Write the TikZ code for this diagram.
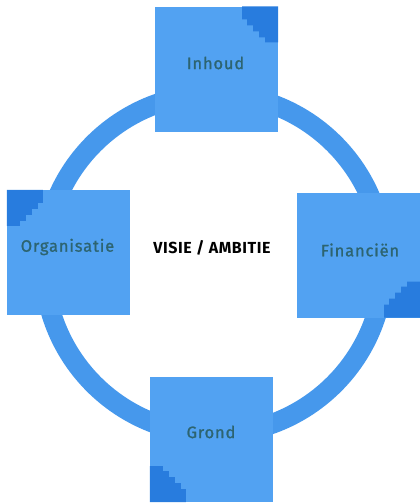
\documentclass[tikz,border=0pt]{standalone}
\usepackage{fontspec}
\setmainfont{Fira Sans}
\definecolor{boxblue}{RGB}{82,162,242}
\definecolor{ringblue}{RGB}{70,152,236}
\definecolor{stairblue}{RGB}{40,124,222}
\definecolor{labelteal}{RGB}{45,100,112}
\tikzset{
  x=1pt, y=-1pt,
  area/.style={fill=boxblue, draw=none, minimum width=123pt, minimum height=125pt, inner sep=0pt},
  lbl/.style={text=labelteal, inner sep=0pt,
    font=\fontsize{16.5}{18}\selectfont\addfontfeatures{LetterSpace=5,FakeBold=1.2}},
  stairs/.pic={
    \fill[stairblue] (0,0) -- (36,0) -- (36,13) -- (31,13) -- (31,19) -- (25,19)
      -- (25,25) -- (19,25) -- (19,31) -- (13,31) -- (13,36) -- (0,36) -- cycle;
  }
}
\begin{document}
\begin{tikzpicture}
\useasboundingbox (0,0) rectangle (420,504);
\clip (0,0) rectangle (420,504);
% ring linking the four areas
\draw[ringblue, line width=20pt] (214,264) circle[radius=170];
% the four areas
\node[area] (inhoud) at (216.5,69) {};
\node[area] (organisatie) at (68.5,252.5) {};
\node[area] (financien) at (358.5,255) {};
\node[area] (grond) at (211.5,439.5) {};
% stepped corner marks
\pic[xscale=-1] at (inhoud.north east) {stairs};
\pic at (organisatie.north west) {stairs};
\pic[xscale=-1, yscale=-1] at (financien.south east) {stairs};
\pic[yscale=-1] at (grond.south west) {stairs};
% labels
\node[lbl] (tinhoud) at (215.5,63) {Inhoud};
\node[lbl] (torganisatie) at (67.5,247) {Organisatie};
\node[lbl] (tfinancien) at (360,250) {Financiën};
\node[lbl] (tgrond) at (211,432) {Grond};
\node[inner sep=0pt, font=\bfseries\fontsize{16}{18}\selectfont\addfontfeatures{LetterSpace=3.5}] (visie) at (212,248) {VISIE / AMBITIE};
\end{tikzpicture}
\end{document}
